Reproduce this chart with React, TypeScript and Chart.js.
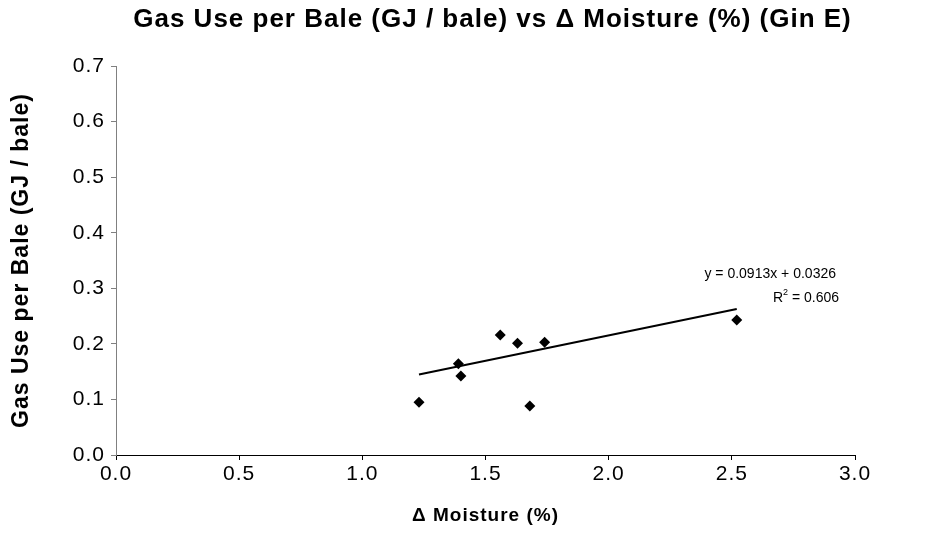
import React, { useEffect, useRef } from "react";
import { Chart, registerables } from "chart.js";

Chart.register(...registerables);

// ---- data ----
const moisture = [1.23, 1.39, 1.4, 1.56, 1.63, 1.68, 1.74, 2.52];
const gasUse = [0.095, 0.164, 0.142, 0.216, 0.201, 0.088, 0.203, 0.243];
const trendSlope = 0.0913;
const trendIntercept = 0.0326;
const rSquaredText = "0.606";
const xTickValues = [0, 0.5, 1.0, 1.5, 2.0, 2.5, 3.0];
const yTickValues = [0, 0.1, 0.2, 0.3, 0.4, 0.5, 0.6, 0.7];
const chartTitle = "Gas Use per Bale (GJ / bale) vs \u0394 Moisture (%) (Gin E)";
const xAxisTitle = "\u0394 Moisture (%)";
const yAxisTitle = "Gas Use per Bale (GJ / bale)";

const FONT = "'Liberation Sans', Arial, Helvetica, sans-serif";
const W = 928;
const H = 548;
const SPACING = "1px";

export default function App() {
  const canvasRef = useRef<HTMLCanvasElement | null>(null);

  useEffect(() => {
    document.body.style.margin = "0";
    const canvas = canvasRef.current;
    if (!canvas) return;

    const points = moisture.map((x, i) => ({ x, y: gasUse[i] }));
    const xMin = Math.min(...moisture);
    const xMax = Math.max(...moisture);
    const trend = [
      { x: xMin, y: trendSlope * xMin + trendIntercept },
      { x: xMax, y: trendSlope * xMax + trendIntercept },
    ];

    const spacingPlugin = {
      id: "wideText",
      beforeUpdate(chart: any) {
        (chart.ctx as any).letterSpacing = SPACING;
      },
      beforeLayout(chart: any) {
        (chart.ctx as any).letterSpacing = SPACING;
      },
      beforeDraw(chart: any) {
        (chart.ctx as any).letterSpacing = SPACING;
      },
    };

    const textPlugin = {
      id: "chartTexts",
      afterDraw(chart: any) {
        const { ctx, scales, chartArea } = chart;
        ctx.save();
        (ctx as any).letterSpacing = SPACING;
        ctx.fillStyle = "#000";
        ctx.textAlign = "center";
        ctx.textBaseline = "middle";
        ctx.font = `bold 26px ${FONT}`;
        ctx.fillText(chartTitle, (chartArea.left + chartArea.right) / 2 + 7, 20);

        // trendline equation
        (ctx as any).letterSpacing = "0px";
        const xr = scales.x.getPixelForValue(2.935);
        const y1 = scales.y.getPixelForValue(0.326);
        const y2 = y1 + 24;
        ctx.textAlign = "right";
        ctx.font = `14px ${FONT}`;
        ctx.fillText(`y = ${trendSlope}x + ${trendIntercept}`, xr - 3, y1);
        const rest = ` = ${rSquaredText}`;
        const restW = ctx.measureText(rest).width;
        ctx.fillText(rest, xr, y2);
        ctx.font = `9px ${FONT}`;
        const supW = ctx.measureText("2").width;
        ctx.fillText("2", xr - restW, y2 - 5);
        ctx.font = `14px ${FONT}`;
        ctx.fillText("R", xr - restW - supW, y2);
        ctx.restore();
      },
    };

    const chart = new Chart(canvas, {
      type: "scatter",
      data: {
        datasets: [
          {
            label: "Gas Use per Bale",
            data: points,
            pointStyle: "rectRot",
            pointRadius: 5.5,
            pointHoverRadius: 5.5,
            backgroundColor: "#000",
            borderColor: "#000",
            borderWidth: 0,
          },
          {
            label: "Linear trend",
            data: trend,
            showLine: true,
            borderColor: "#000",
            borderWidth: 2,
            pointRadius: 0,
            pointHoverRadius: 0,
            fill: false,
          } as any,
        ],
      },
      options: {
        responsive: false,
        animation: false,
        layout: { padding: { left: 8, right: 73, top: 66, bottom: 0 } },
        plugins: {
          legend: { display: false },
          tooltip: { enabled: false },
          title: { display: false },
        },
        scales: {
          x: {
            type: "linear",
            position: "bottom",
            min: 0,
            max: 3,
            afterBuildTicks: (s: any) => {
              s.ticks = xTickValues.map((v) => ({ value: v }));
            },
            afterFit: (s: any) => {
              s.height = 93;
            },
            grid: {
              drawOnChartArea: false,
              drawTicks: true,
              tickLength: 5,
              color: "#000",
            },
            border: { color: "#000", width: 1 },
            ticks: {
              color: "#000",
              padding: 2,
              maxRotation: 0,
              font: { family: FONT, size: 21 },
              callback: (v: any) => Number(v).toFixed(1),
            },
            title: {
              display: true,
              text: xAxisTitle,
              color: "#000",
              font: { family: FONT, size: 19, weight: "bold" },
              padding: { top: 0, bottom: 21 },
            },
          },
          y: {
            type: "linear",
            min: 0,
            max: 0.7,
            afterBuildTicks: (s: any) => {
              s.ticks = yTickValues.map((v) => ({ value: v }));
            },
            afterFit: (s: any) => {
              s.width = 108;
            },
            grid: {
              drawOnChartArea: false,
              drawTicks: true,
              tickLength: 5,
              color: "#808080",
            },
            border: { color: "#808080", width: 1 },
            ticks: {
              color: "#000",
              padding: 6,
              font: { family: FONT, size: 21 },
              callback: (v: any) => Number(v).toFixed(1),
            },
            title: {
              display: true,
              text: yAxisTitle,
              color: "#000",
              font: { family: FONT, size: 23, weight: "bold" },
              padding: { top: 0, bottom: 0 },
            },
          },
        },
      },
      plugins: [spacingPlugin, textPlugin],
    });

    return () => chart.destroy();
  }, []);

  return (
    <div style={{ position: "absolute", left: 0, top: 0, width: W, height: H, background: "#fff" }}>
      <canvas ref={canvasRef} width={W} height={H} />
    </div>
  );
}
